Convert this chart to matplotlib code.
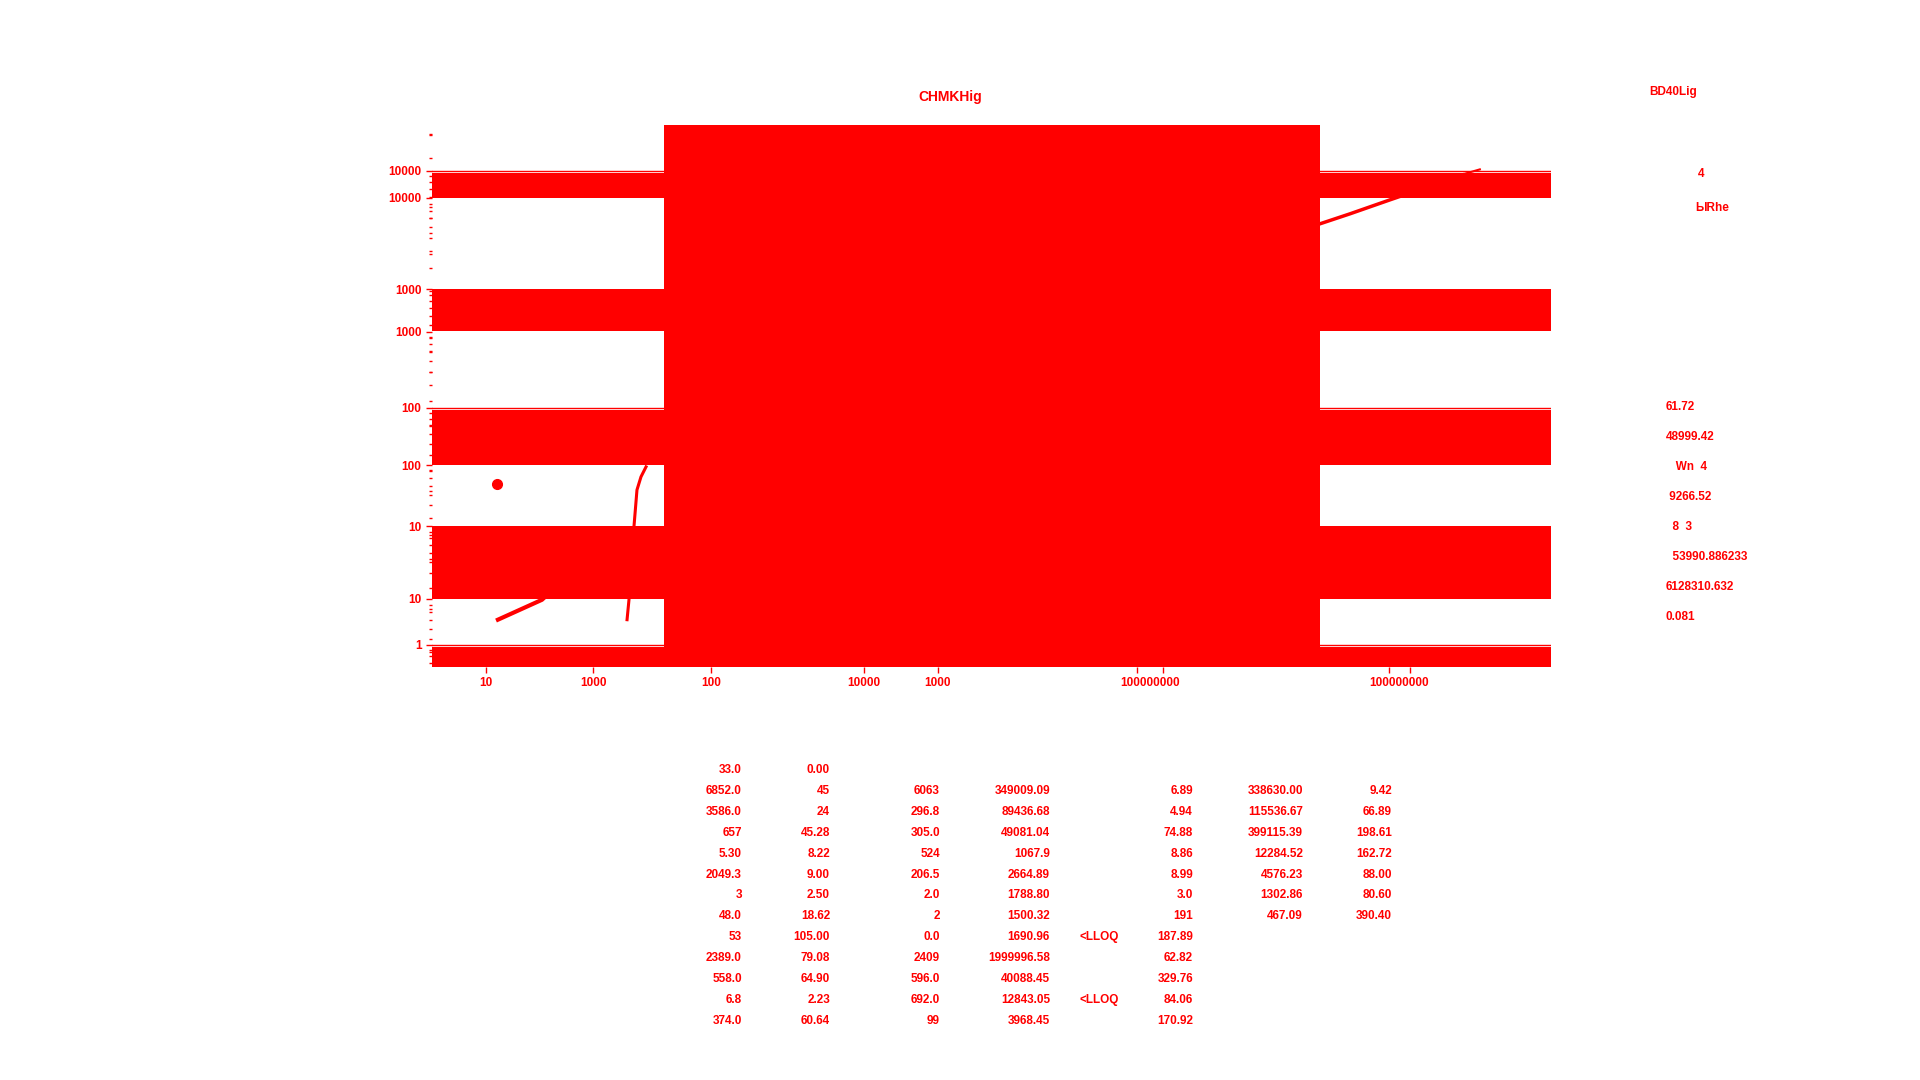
import matplotlib
matplotlib.use("Agg")
import matplotlib.pyplot as plt

plt.rcParams['font.family'] = ['Liberation Sans', 'DejaVu Sans']
plt.rcParams['font.weight'] = 'bold'
RED = '#ff0000'

# y bands (in the data units of the main log axis)
band_hi = [9600, 1000, 96, 10, 0.96]
band_lo = [5900, 447, 33, 2.44, 0.4]
edge_lines = [10000, 100, 1]

# big block in the middle (x range)
block_x = (45.5, 2.22e6)

# traces
line1_x = [2.96, 6.11, 7.5]
line1_y = [1.63, 2.40, 3.0]
curve_x = [24.8, 25.6, 27.8, 29.2, 31.2, 33.9]
curve_y = [1.63, 2.40, 10, 20.3, 26.2, 31.8]
dot_x = [2.9]
dot_y = [22.9]
right_x = [2.22e6, 3.65e6, 7.04e6, 2.34e7]
right_y = [3570, 4340, 5690, 9250]
tail_x = [2.3e7, 3.1e7]
tail_y = [9300, 10300]

# axis ticks
ya_ticks = [1, 10, 100, 1000, 10000]
ya_labels = ['1', '10', '100', '1000', '10000']
yb_ticks = [10, 100, 1000, 10000]
yb_labels = ['10', '100', '1000', '10000']
x_ticks = [2.43, 14.2, 98.7, 1224, 4140, 1.09e5, 1.68e5, 6.93e6, 9.8e6]
x_labels = ['10', '1000', '100', '10000', '1000', '', '', '', '']
# the two crowded pairs of ticks share one run-together label
x_merged = [1.35e5, 8.2e6]
x_merged_labels = ['100000000', '100000000']

# side panel
side_title = 'BD40Lig'
side_small = ['4', 'ЫRhe']
side_values = ['61.72', '48999.42', '   Wn  4', ' 9266.52', '  8  3',
               '  53990.886233', '6128310.632', '0.081']

# table below the chart
col1 = ['33.0', '6852.0', '3586.0', '657', '5.30', '2049.3', '3', '48.0', '53',
        '2389.0', '558.0', '6.8', '374.0']
col2 = ['0.00', '45', '24', '45.28', '8.22', '9.00', '2.50', '18.62', '105.00',
        '79.08', '64.90', '2.23', '60.64']
col3 = ['', '6063', '296.8', '305.0', '524', '206.5', '2.0', '2', '0.0',
        '2409', '596.0', '692.0', '99']
col4 = ['', '349009.09', '89436.68', '49081.04', '1067.9', '2664.89', '1788.80',
        '1500.32', '1690.96', '1999996.58', '40088.45', '12843.05', '3968.45']
col5 = ['', '', '', '', '', '', '', '', '<LLOQ', '', '', '<LLOQ', '']
col6 = ['', '6.89', '4.94', '74.88', '8.86', '8.99', '3.0', '191', '187.89',
        '62.82', '329.76', '84.06', '170.92']
col7 = ['', '338630.00', '115536.67', '399115.39', '12284.52', '4576.23',
        '1302.86', '467.09']
col8 = ['', '9.42', '66.89', '198.61', '162.72', '88.00', '80.60', '390.40']

fig = plt.figure(figsize=(19.2, 10.8), dpi=100)
rect = [432 / 1920, 1 - 667 / 1080, (1551 - 432) / 1920, (667 - 125) / 1080]

ax = fig.add_axes(rect)
ax.set_xscale('log')
ax.set_yscale('log')
ax.set_xlim(1, 1e8)
ax.set_ylim(0.65, 24400)

for lo, hi in zip(band_lo, band_hi):
    ax.axhspan(lo, hi, color=RED, lw=0)
for v in edge_lines:
    ax.axhline(v, color=RED, lw=1)
ax.axvspan(*block_x, color=RED, lw=0)

ax.plot(line1_x, line1_y, color=RED, lw=3)
ax.plot(curve_x, curve_y, color=RED, lw=2.2)
ax.plot(dot_x, dot_y, 'o', color=RED, ms=7)
ax.plot(right_x, right_y, color=RED, lw=2.5)
ax.plot(tail_x, tail_y, color=RED, lw=1.5)

ax.set_yticks(ya_ticks)
ax.set_yticklabels(ya_labels)
ax.set_xticks(x_ticks)
ax.set_xticklabels(x_labels)
ax.xaxis.set_minor_locator(matplotlib.ticker.NullLocator())
ax.tick_params(colors=RED, labelsize=8.5, length=4, width=1)
ax.tick_params(which='minor', colors=RED, length=2, width=1)
for s in ax.spines.values():
    s.set_visible(False)

# second, overlapping y scale
ax2 = fig.add_axes(rect)
ax2.patch.set_visible(False)
ax2.set_yscale('log')
ax2.set_ylim(3.1, 35000)
ax2.set_yticks(yb_ticks)
ax2.set_yticklabels(yb_labels)
ax2.tick_params(colors=RED, labelsize=8.5, length=4, width=1)
ax2.tick_params(which='minor', colors=RED, length=2, width=1)
# merged x labels sit on this axis, without their own tick marks
ax2.set_xscale('log')
ax2.set_xlim(1, 1e8)
ax2.set_xticks(x_merged)
ax2.set_xticklabels(x_merged_labels)
ax2.xaxis.set_minor_locator(matplotlib.ticker.NullLocator())
ax2.tick_params(axis='x', length=0, pad=7.5)
for s in ax2.spines.values():
    s.set_visible(False)

fig.text(950 / 1920, 1 - 97 / 1080, 'CHMKHig', color=RED, fontsize=10,
         ha='center', va='center')

# side panel
fig.text(1673 / 1920, 1 - 92 / 1080, side_title, color=RED, fontsize=8.5,
         ha='center', va='center')
fig.text(1701 / 1920, 1 - 174 / 1080, side_small[0], color=RED, fontsize=8.5,
         ha='center', va='center')
fig.text(1712 / 1920, 1 - 208 / 1080, side_small[1], color=RED, fontsize=8.5,
         ha='center', va='center')
for i, t in enumerate(side_values):
    fig.text(1666 / 1920, 1 - (407 + 30 * i) / 1080, t, color=RED, fontsize=8.5,
             ha='left', va='center')

# table
cols = [(col1, 742, 'right'), (col2, 830, 'right'), (col3, 940, 'right'),
        (col4, 1050, 'right'), (col5, 1079, 'left'), (col6, 1193, 'right'),
        (col7, 1303, 'right'), (col8, 1392, 'right')]
for values, xpx, align in cols:
    for i, t in enumerate(values):
        if t:
            fig.text(xpx / 1920, 1 - (770 + 20.9 * i) / 1080, t, color=RED,
                     fontsize=8.5, ha=align, va='center')

fig.savefig('out.png', dpi=100)
